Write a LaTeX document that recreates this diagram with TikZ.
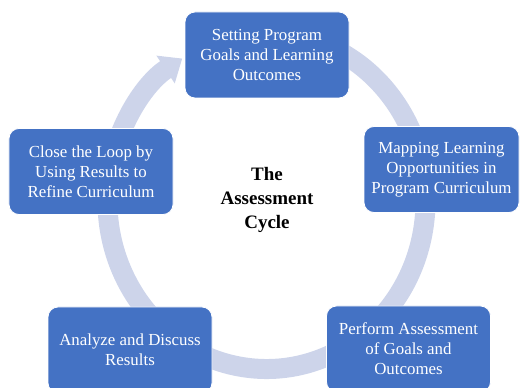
\documentclass[tikz,border=0pt]{standalone}
\usepackage{fontspec}
\setmainfont{Liberation Serif}
\usetikzlibrary{arrows.meta}
\definecolor{boxblue}{RGB}{68,114,196}
\definecolor{ringblue}{RGB}{205,212,234}
\begin{document}
\begin{tikzpicture}[
    stage/.style={rectangle, rounded corners=0.25cm, fill=boxblue, draw=white, line width=0.6pt,
        text=white, align=center, minimum width=4.1cm, minimum height=2.15cm,
        font=\fontsize{12}{14.2}\selectfont},
    title/.style={align=center, font=\bfseries\fontsize{13.5}{17.4}\selectfont}
]
    % Frame
    \useasboundingbox (0, 0) rectangle (13, 9.675);

    % Ring arrow (clockwise, tail hidden under the top box)
    \draw[ringblue, line width=0.5cm, -{Triangle[length=0.5cm, width=0.8cm]}]
        (6.6625, 4.65) ++(80:3.975 and 4.2)
        arc[start angle=80, end angle=-238, x radius=3.975, y radius=4.2];

    % Stages
    \node[stage] (goals) at (6.675, 8.3) {Setting Program\\Goals and Learning\\Outcomes};
    \node[stage, minimum width=3.875cm] (mapping) at (11.0375, 5.4375) {Mapping Learning\\Opportunities in\\Program Curriculum};
    \node[stage] (perform) at (10.2125, 0.95) {Perform Assessment\\of Goals and\\Outcomes};
    \node[stage] (analyze) at (3.25, 0.925) {Analyze and Discuss\\Results};
    \node[stage] (close) at (2.275, 5.3875) {Close the Loop by\\Using Results to\\Refine Curriculum};

    % Centre label
    \node[title] (cycle) at (6.675, 4.675) {The\\Assessment\\Cycle};
\end{tikzpicture}
\end{document}
